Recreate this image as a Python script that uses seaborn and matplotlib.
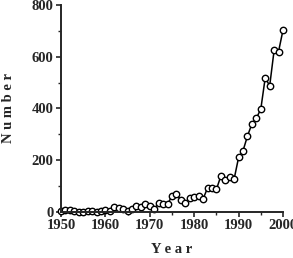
import numpy as np
import pandas as pd
import matplotlib
matplotlib.use("Agg")
import matplotlib.pyplot as plt
import seaborn as sns

years = list(range(1950, 2001))
counts = [2, 5, 6, 4, 0, 0, 1, 3, 0, 1,
          5, 2, 18, 16, 12, 4, 10, 22, 20, 28,
          22, 9, 35, 29, 29, 61, 68, 45, 35, 53,
          56, 61, 49, 92, 90, 86, 138, 123, 135, 127,
          210, 236, 293, 340, 362, 397, 519, 487, 625, 620,
          703]
xticks = [1950, 1960, 1970, 1980, 1990, 2000]
yticks = [0, 200, 400, 600, 800]

df = pd.DataFrame({"Year": years, "Number": counts})

sns.set_style("ticks")
plt.rcParams["font.family"] = ["Liberation Serif", "DejaVu Serif"]
plt.rcParams["font.weight"] = "bold"

fig = plt.figure(figsize=(2.93, 2.58), dpi=100)
ax = fig.add_axes([61 / 293, (258 - 211.7) / 258, (283 - 61) / 293, (211.7 - 5) / 258])

sns.lineplot(data=df, x="Year", y="Number", ax=ax, color="black", linewidth=1.1,
             marker="o", markersize=4.6, markerfacecolor="white",
             markeredgecolor="black", markeredgewidth=1.0, clip_on=False)

ax.set_xlim(1950, 2000)
ax.set_ylim(0, 800)
ax.set_xticks(xticks)
ax.set_yticks(yticks)
ax.set_xticks(range(1955, 2000, 10), minor=True)
ax.set_yticks(range(100, 800, 200), minor=True)
ax.tick_params(which="major", direction="out", length=3.5, width=1.2, labelsize=10.5, pad=2)
ax.tick_params(which="minor", direction="out", length=2.5, width=1.0)
for lab in ax.get_xticklabels() + ax.get_yticklabels():
    lab.set_fontweight("bold")

sns.despine(ax=ax)
for s in ["left", "bottom"]:
    ax.spines[s].set_linewidth(1.4)

ax.set_xlabel("Y e a r", fontsize=10.5, fontweight="bold", labelpad=8)
ax.set_ylabel("N u m b e r", fontsize=10.5, fontweight="bold", labelpad=12)

fig.savefig("out.png", dpi=100)
